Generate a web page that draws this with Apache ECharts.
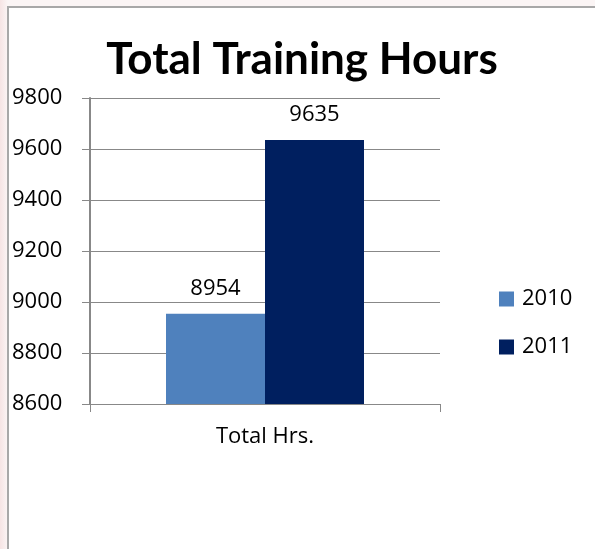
<!DOCTYPE html>
<html>
<head>
<meta charset="utf-8">
<script src="https://cdn.jsdelivr.net/npm/echarts@6/dist/echarts.min.js"></script>
<style>
  html, body { margin: 0; padding: 0; }
  body { width: 595px; height: 549px; background: linear-gradient(to right, #f6e4e4, #fbf5f5 8px, #fbf5f5); position: relative; overflow: hidden; }
  #chart { position: absolute; left: 7px; top: 6px; width: 588px; height: 543px; background: #fff; border-left: 2px solid #a8a8a8; border-top: 2px solid #a8a8a8; box-sizing: border-box; }
</style>
</head>
<body>
<div id="chart"></div>
<script>
// data
var categories = ['Total Hrs.']
var seriesNames = ['2010', '2011']
var values2010 = [8954]
var values2011 = [9635]
var seriesColors = ['#4f81bd', '#001f5f']

var myChart = echarts.init(document.getElementById('chart'))
var font = '"Open Sans", sans-serif'

var option = {
  animation: false,
  title: {
    text: 'Total Training Hours',
    left: 'center',
    top: 25,
    textStyle: { fontFamily: 'Lato, sans-serif', fontWeight: 'bold', fontSize: 44, color: '#000' }
  },
  legend: {
    orient: 'vertical',
    left: 485,
    top: 275,
    itemWidth: 15,
    itemHeight: 15,
    itemGap: 26,
    icon: 'rect',
    data: seriesNames,
    textStyle: { fontFamily: font, fontSize: 22, color: '#000', padding: [0, 0, 0, 3] }
  },
  grid: { left: 81, top: 90, width: 350, height: 306, containLabel: false },
  xAxis: {
    type: 'category',
    data: categories,
    axisLine: { lineStyle: { color: '#888', width: 1 } },
    axisTick: { show: true, length: 8, lineStyle: { color: '#888' } },
    axisLabel: { fontFamily: font, fontSize: 22, color: '#000', margin: 22 }
  },
  yAxis: {
    type: 'value',
    min: 8600,
    max: 9800,
    interval: 200,
    axisLine: { show: true, lineStyle: { color: '#888', width: 2 } },
    axisTick: { show: true, length: 8, lineStyle: { color: '#888' } },
    splitLine: { lineStyle: { color: '#888', width: 1 } },
    axisLabel: { fontFamily: font, fontSize: 22, color: '#000', align: 'left', margin: 78, formatter: function (v) { return String(v) } }
  },
  series: [
    {
      name: seriesNames[0],
      type: 'bar',
      data: values2010,
      barWidth: 99,
      barGap: '0%',
      itemStyle: { color: seriesColors[0] },
      label: { show: true, position: 'top', distance: 14, fontFamily: font, fontSize: 22, color: '#000' }
    },
    {
      name: seriesNames[1],
      type: 'bar',
      data: values2011,
      barWidth: 99,
      barGap: '0%',
      itemStyle: { color: seriesColors[1] },
      label: { show: true, position: 'top', distance: 14, fontFamily: font, fontSize: 22, color: '#000' }
    }
  ]
}
myChart.setOption(option)
</script>
</body>
</html>
